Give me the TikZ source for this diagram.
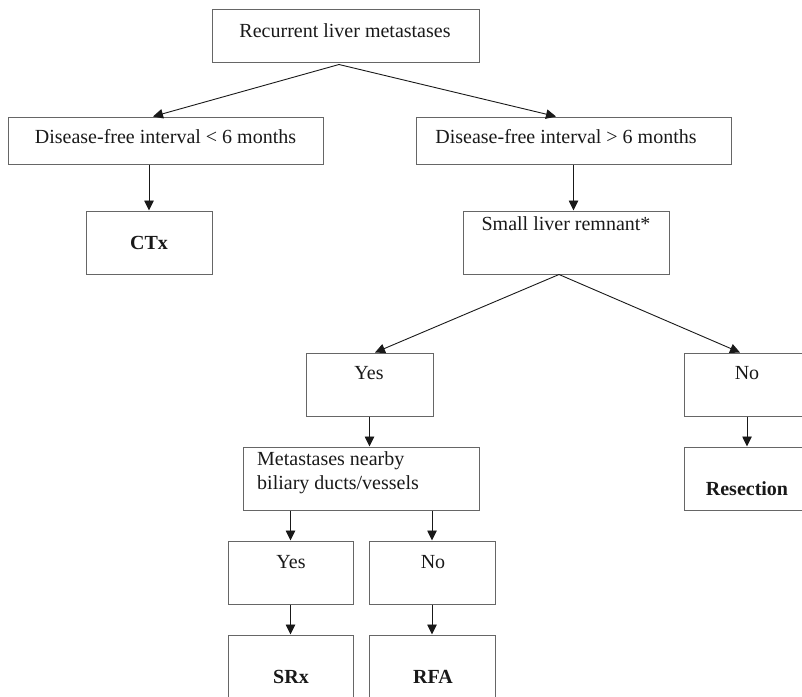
\documentclass[tikz,border=0pt]{standalone}
\usepackage{fontspec}
\setmainfont{Liberation Serif}
\usetikzlibrary{arrows.meta,calc}
\begin{document}
\begin{tikzpicture}[x=1pt,y=-1pt,
  box/.style={draw=black!60,line width=1pt,rectangle,inner sep=0pt},
  txt/.style={inner sep=0pt,text=black!90,font=\fontsize{20}{24}\selectfont},
  btxt/.style={txt,font=\fontsize{20}{24}\selectfont\bfseries},
  arr/.style={draw=black!90,line width=0.9pt,-{Triangle[length=10pt,width=9.5pt]}}]
\useasboundingbox (0,0) rectangle (802,696);
\clip (0,0) rectangle (802,696);
% boxes
\node[box,minimum width=267,minimum height=53] (top) at (345.5,35.5) {};
\node[box,minimum width=315,minimum height=47] (l1) at (165.5,140.5) {};
\node[box,minimum width=315,minimum height=47] (r1) at (573.5,140.5) {};
\node[box,minimum width=126,minimum height=63] (ctx) at (149,242.5) {};
\node[box,minimum width=206,minimum height=63] (slr) at (566,242.5) {};
\node[box,minimum width=127,minimum height=63] (yes1) at (369.5,384.5) {};
\node[box,minimum width=126,minimum height=63] (no1) at (747,384.5) {};
\node[box,minimum width=236,minimum height=63] (met) at (361,478.5) {};
\node[box,minimum width=126,minimum height=63] (res) at (747,478.5) {};
\node[box,minimum width=125,minimum height=63] (yes2) at (290.5,572.5) {};
\node[box,minimum width=126,minimum height=63] (no2) at (432,572.5) {};
\node[box,minimum width=125,minimum height=75] (srx) at (290.5,672.5) {};
\node[box,minimum width=126,minimum height=75] (rfa) at (432,672.5) {};
% texts
\node[txt] (topt) at (345,31) {Recurrent liver metastases};
\node[txt] (l1t) at (165.5,137) {Disease-free interval < 6 months};
\node[txt] (r1t) at (566,137) {Disease-free interval > 6 months};
\node[btxt] (ctxt) at (149,243) {CTx};
\node[txt] (slrt) at (566,224) {Small liver remnant*};
\node[txt] (yes1t) at (369,373) {Yes};
\node[txt] (no1t) at (747,373) {No};
\node[txt,anchor=west] (met1t) at (257,461) {Metastases nearby};
\node[txt,anchor=west] (met2t) at (257,485) {biliary ducts/vessels};
\node[btxt] (rest) at (747,489) {Resection};
\node[txt] (yes2t) at (291,562) {Yes};
\node[txt] (no2t) at (433,562) {No};
\node[btxt] (srxt) at (291,677) {SRx};
\node[btxt] (rfat) at (433,677) {RFA};
% arrows
\draw[arr] ([xshift=-6.5pt,yshift=-2pt]top.south) -- ([xshift=-12.5pt]l1.north);
\draw[arr] ([xshift=-6.5pt,yshift=-2pt]top.south) -- ([xshift=-17.5pt]r1.north);
\draw[arr] (l1.south -| ctx.north) -- (ctx.north);
\draw[arr] (r1.south) -- (r1.south |- slr.north);
\draw[arr] ([xshift=-7pt]slr.south) -- ([xshift=5.5pt]yes1.north);
\draw[arr] ([xshift=-7pt]slr.south) -- ([xshift=-7pt]no1.north);
\draw[arr] (yes1.south) -- (yes1.south |- met.north);
\draw[arr] (no1.south) -- (res.north);
\draw[arr] (met.south -| yes2.north) -- (yes2.north);
\draw[arr] (met.south -| no2.north) -- (no2.north);
\draw[arr] (yes2.south) -- (srx.north);
\draw[arr] (no2.south) -- (rfa.north);
\end{tikzpicture}
\end{document}
